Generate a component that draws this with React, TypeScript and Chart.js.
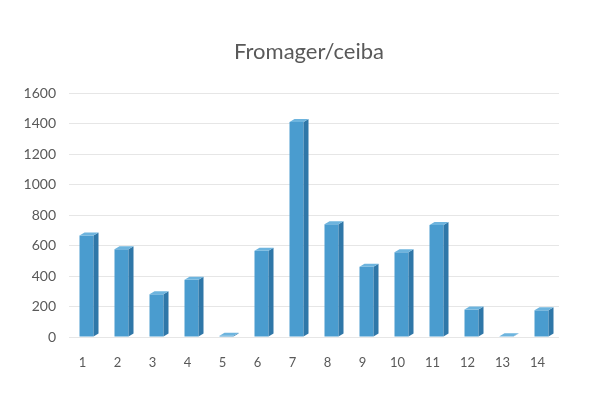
import React, { useEffect, useRef } from "react";
import { Chart, registerables } from "chart.js";

Chart.register(...registerables);

const categories = ["1", "2", "3", "4", "5", "6", "7", "8", "9", "10", "11", "12", "13", "14"];
const values = [665, 575, 280, 375, 8, 565, 1410, 740, 460, 555, 735, 180, 5, 175];
const yTicks = [0, 200, 400, 600, 800, 1000, 1200, 1400, 1600];
const chartTitle = "Fromager/ceiba";

const FRONT = "#4a9ccf";
const SIDE = "#2f77a8";
const TOP = "#6db4de";

const bar3d = {
  id: "bar3d",
  afterDatasetsDraw(chart: any) {
    const ctx = chart.ctx;
    const meta = chart.getDatasetMeta(0);
    const dx = 5;
    const dy = 3;
    ctx.save();
    meta.data.forEach((el: any) => {
      const { x, y, base, width } = el.getProps(["x", "y", "base", "width"], true);
      const left = x - width / 2;
      const right = x + width / 2;
      ctx.fillStyle = SIDE;
      ctx.beginPath();
      ctx.moveTo(right, y);
      ctx.lineTo(right + dx, y - dy);
      ctx.lineTo(right + dx, base - dy);
      ctx.lineTo(right, base);
      ctx.closePath();
      ctx.fill();
      ctx.fillStyle = TOP;
      ctx.beginPath();
      ctx.moveTo(left, y);
      ctx.lineTo(left + dx, y - dy);
      ctx.lineTo(right + dx, y - dy);
      ctx.lineTo(right, y);
      ctx.closePath();
      ctx.fill();
    });
    ctx.restore();
  },
};

export default function App() {
  const ref = useRef<HTMLCanvasElement | null>(null);
  useEffect(() => {
    if (!ref.current) return;
    const chart = new Chart(ref.current, {
      type: "bar",
      data: {
        labels: categories,
        datasets: [
          {
            data: values,
            backgroundColor: FRONT,
            borderWidth: 0,
            barPercentage: 0.4,
            categoryPercentage: 1,
            yAxisID: "y",
          },
        ],
      },
      plugins: [bar3d],
      options: {
        responsive: false,
        animation: false,
        layout: { padding: { top: 20, right: 0, bottom: 23.4, left: 7 } },
        plugins: {
          legend: { display: false },
          tooltip: { enabled: false },
          title: {
            display: true,
            text: chartTitle,
            color: "#595959",
            font: { family: "Lato", size: 22, weight: "normal" },
            padding: { top: 18.8, bottom: 27.8 },
          },
        },
        scales: {
          x: {
            afterFit: (s: any) => {
              s.height = 33.6;
            },
            grid: { display: false, drawTicks: false },
            border: { display: false },
            ticks: {
              color: "#595959",
              font: { family: "Lato", size: 13 },
              padding: 18,
              labelOffset: -4,
              maxRotation: 0,
              autoSkip: false,
            },
          },
          y: {
            min: 0,
            max: 1600,
            afterFit: (s: any) => {
              s.width = 62;
            },
            afterBuildTicks: (s: any) => {
              s.ticks = yTicks.map((v) => ({ value: v }));
            },
            grid: { color: "#e6e6e6", drawTicks: false },
            border: { display: false },
            ticks: {
              color: "#595959",
              font: { family: "Lato", size: 14 },
              padding: 13,
              callback: (v: any) => String(v),
            },
          },
          yRight: {
            type: "linear",
            position: "right",
            min: 0,
            max: 1600,
            afterFit: (s: any) => {
              s.width = 52;
            },
            grid: { display: false, drawTicks: false },
            border: { display: false },
            ticks: { display: false },
          },
        },
      },
    });
    return () => chart.destroy();
  }, []);
  return (
    <div style={{ position: "absolute", left: 0, top: 0, width: 611, height: 394, background: "#fff" }}>
      <canvas ref={ref} width={611} height={394} />
    </div>
  );
}
